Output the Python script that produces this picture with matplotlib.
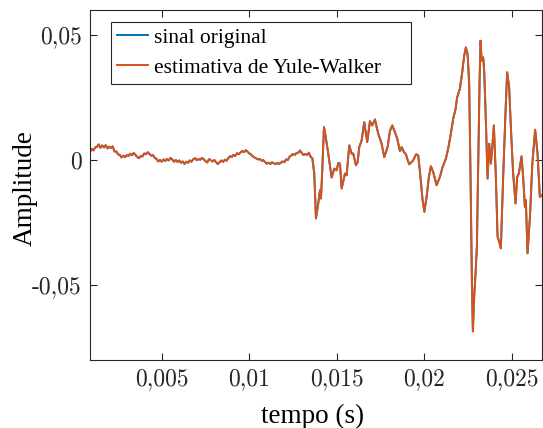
import matplotlib
matplotlib.use("Agg")
import matplotlib.pyplot as plt
import numpy as np

# trecho inicial (ruido de fundo), amostrado a cada 0,1 ms
tempo_ini = np.round(np.arange(0.9, 13.65, 0.1), 1)
sinal_ini = [
    3.2, 4.4, 3.8, 5.0, 5.2, 6.2, 4.9, 5.8, 5.0, 5.9,
    4.6, 5.3, 4.8, 5.4, 3.4, 3.4, 2.3, 2.0, 1.0, 1.7,
    1.1, 1.9, 1.6, 2.5, 1.9, 2.8, 2.0, 1.2, 0.7, 1.6,
    1.4, 2.6, 2.3, 3.1, 2.4, 1.7, 1.9, 0.9, 0.4, -0.6,
    0.0, -0.7, 0.2, -0.4, 0.4, -0.2, 0.8, 0.2, -0.7, 0.0,
    -0.8, -0.2, -1.1, -0.6, -1.6, -0.7, -1.1, -0.2, -0.7, 0.3,
    0.7, -0.1, 0.4, 0.1, 0.8, 0.3, -0.5, -1.0, 0.3, -0.1,
    -0.6, 0.0, -0.9, -1.6, -0.9, -0.2, -0.8, 0.1, -0.3, 0.7,
    1.5, 1.2, 2.0, 1.6, 2.7, 2.3, 3.0, 3.6, 3.1, 3.9,
    3.3, 2.6, 2.2, 1.4, 1.0, 0.6, 0.2, 0.4, -0.3, -0.1,
    -0.8, -1.5, -1.1, -1.6, -1.0, -1.3, -1.7, -1.2, -1.6, -1.1,
    -0.6, -0.9, 0.2, 0.0, 1.3, 1.8, 2.4, 2.0, 2.8, 2.9,
    3.8, 2.7, 2.0, 2.4, 2.0, 2.9, 1.3, 0.7,
]

# trecho da resposta (ms, x 1e-3)
tempo_resp = [
    13.710, 13.807, 13.938, 14.035, 14.093, 14.167, 14.264, 14.321, 14.509, 14.703,
    14.852, 14.989, 15.080, 15.177, 15.274, 15.462, 15.559, 15.708, 15.845, 15.936,
    16.090, 16.187, 16.279, 16.416, 16.564, 16.735, 16.889, 17.021, 17.175, 17.363,
    17.557, 17.705, 17.900, 18.031, 18.162, 18.317, 18.447, 18.602, 18.699, 18.830,
    18.944, 19.018, 19.132, 19.269, 19.361, 19.521, 19.646, 19.743, 19.897, 19.996,
    20.126, 20.257, 20.371, 20.502, 20.696, 20.885, 21.039, 21.227, 21.358, 21.495,
    21.644, 21.781, 21.872, 22.026, 22.158, 22.272, 22.369, 22.466, 22.557, 22.637,
    22.711, 22.768, 22.843, 22.922, 22.997, 23.071, 23.151, 23.208, 23.265, 23.356,
    23.413, 23.510, 23.607, 23.699, 23.796, 23.870, 23.967, 24.081, 24.178, 24.269,
    24.366, 24.498, 24.635, 24.726, 24.840, 24.937, 25.068, 25.205, 25.297, 25.394,
    25.548, 25.639, 25.737, 25.793, 25.890, 26.027, 26.164, 26.324, 26.461, 26.592,
    26.724, 26.820,
]
sinal_resp = [
    -5.43, -23.34, -17.37, -12.08, -15.38, -4.12, 13.11, 11.12, 2.53, -7.02,
    -3.44, -4.12, -1.21, -1.45, -11.40, -5.43, -6.11, 5.83, 2.53, 2.53,
    -2.13, -0.82, 5.15, 7.82, 15.10, 7.14, 15.50, 13.79, 16.18, 10.49,
    6.51, 1.17, 5.15, 11.52, 13.79, 11.12, 8.50, 3.56, 5.15, 3.16,
    2.25, 0.54, -1.73, -0.82, -0.14, 2.25, 1.85, -4.50, -16.06, -20.71,
    -14.74, -6.78, -2.53, -4.80, -10.09, -6.78, -2.81, 0.54, 4.52, 9.81,
    16.45, 20.43, 25.05, 28.39, 35.00, 41.64, 44.95, 42.32, 30.38, -8.10,
    -47.85, -68.46, -54.54, -45.22, -34.64, -1.45, 31.70, 47.61, 39.65, 40.97,
    35.68, 15.78, -7.42, 6.51, -1.45, 4.52, 13.79, -6.78, -30.66, -32.65,
    -35.28, -6.78, 19.76, 35.00, 29.03, 13.11, -5.43, -17.37, -6.78, -5.43,
    1.45, -6.78, -18.72, -16.06, -37.27, -22.70, -1.45, 12.08, 2.53, -14.74,
    -14.07, -14.00,
]

tempo = np.concatenate([tempo_ini, tempo_resp]) * 1e-3
sinal = np.concatenate([sinal_ini, sinal_resp]) * 1e-3
# a estimativa praticamente coincide com o sinal original
estimativa = sinal.copy()

xticks = [0.005, 0.01, 0.015, 0.02, 0.025]
xticklabels = ["0,005", "0,01", "0,015", "0,02", "0,025"]
yticks = [-0.05, 0, 0.05]
yticklabels = ["-0,05", "0", "0,05"]

serif = "Liberation Serif"

fig = plt.figure(figsize=(5.43, 4.28), dpi=100)
ax = fig.add_axes([0.1663, 0.1582, 0.832, 0.8191])

ax.plot(tempo, sinal, color="#0072BD", lw=1.4, label="sinal original")
ax.plot(tempo, estimativa, color="#D95319", lw=1.4, label="estimativa de Yule-Walker")

ax.set_xlim(0.00092, 0.02672)
ax.set_ylim(-0.08, 0.06)

ax.set_xticks(xticks)
ax.set_xticklabels(xticklabels, fontfamily="cmr10", fontsize=17)
ax.set_yticks(yticks)
ax.set_yticklabels(yticklabels, fontfamily="cmr10", fontsize=17)
ax.tick_params(direction="in", length=5, width=0.8, color="#262626",
               top=True, right=True, pad=6, labelcolor="#262626")
for s in ax.spines.values():
    s.set_color("#262626")
    s.set_linewidth(0.8)

ax.set_xlabel("tempo (s)", fontfamily=serif, fontsize=19.5)
ax.set_ylabel("Amplitude", fontfamily=serif, fontsize=19.5)
ax.xaxis.set_label_coords(0.491, -0.124)
ax.yaxis.set_label_coords(-0.117, 0.491)

# caixa da legenda: 111..411 px em x, topo em 21.7 px
leg = ax.legend(loc="upper left", bbox_to_anchor=(0.2044, 0.80, 0.5525, 0.1493),
                bbox_transform=fig.transFigure, borderaxespad=0, mode="expand",
                prop={"family": serif, "size": 15.5}, fancybox=False,
                edgecolor="#262626", framealpha=1, handlelength=1.45,
                handletextpad=0.25, labelspacing=0.45, borderpad=0.28)
leg.get_frame().set_linewidth(0.8)

fig.savefig("out.png", dpi=100)
